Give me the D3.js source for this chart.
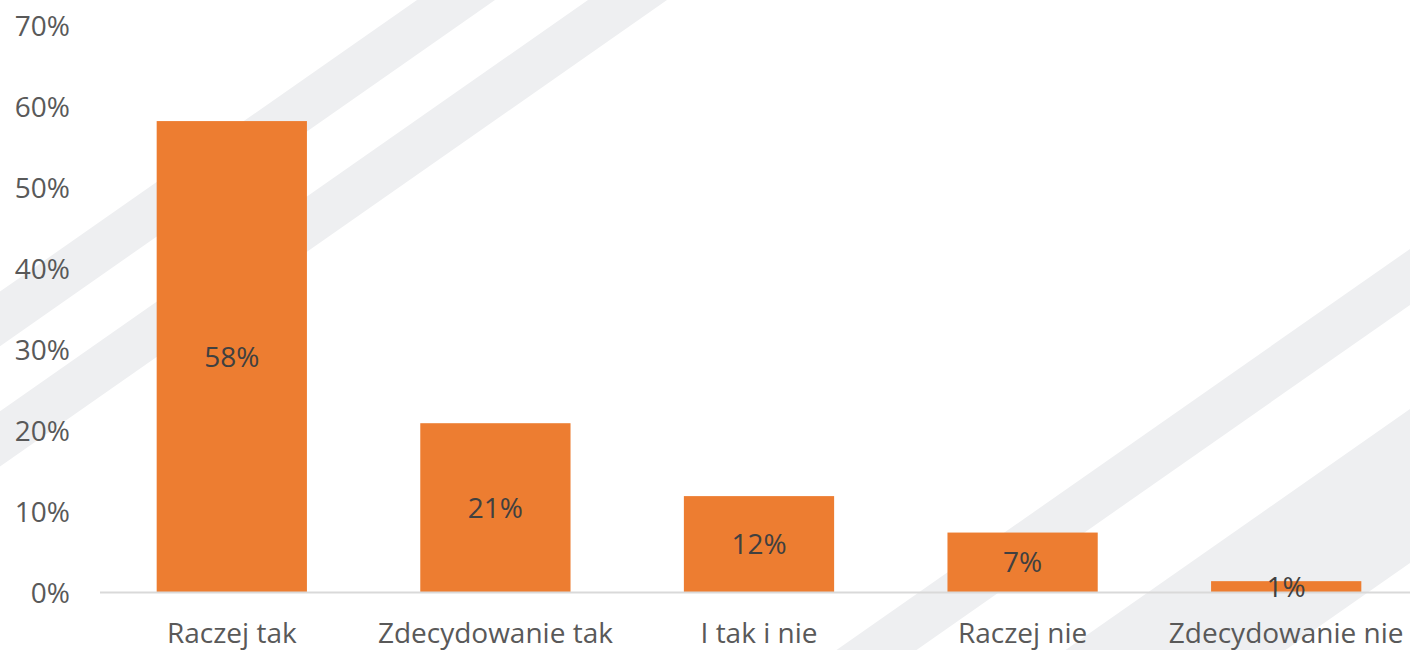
<!DOCTYPE html>
<html lang="pl">
<head>
    <meta charset="UTF-8">
    <title>Wykres odpowiedzi</title>
    <script src="https://d3js.org/d3.v7.min.js"></script>
    <style>
        html, body { margin: 0; padding: 0; background: #fff; }
        svg { display: block; font-family: "Open Sans", "Noto Sans", sans-serif; }
        .stripe { fill: #eeeff1; }
        .tick-label { fill: #595959; font-size: 28px; }
        .cat-label { fill: #595959; font-size: 28px; }
        .value-label { fill: #404040; font-size: 28px; }
        .baseline { stroke: #d9d9d9; stroke-width: 2px; }
        .bar { fill: #ed7d31; }
    </style>
</head>
<body>
    <svg width="1410" height="650"></svg>
    <script>
        // data
        const categories = ["Raczej tak", "Zdecydowanie tak", "I tak i nie", "Raczej nie", "Zdecydowanie nie"];
        const values = [0.582, 0.209, 0.119, 0.074, 0.014];
        const yTicks = [0, 0.1, 0.2, 0.3, 0.4, 0.5, 0.6, 0.7];

        const width = 1410, height = 650;
        const svg = d3.select("svg");

        // background decoration: diagonal stripes (x where upper/lower edge meets y=0)
        const slope = 1.43;
        const stripes = [[417, 495], [588, 667], [1766, 1846], [1995, 2215]];
        svg.append("g").selectAll("polygon")
            .data(stripes)
            .enter().append("polygon")
            .attr("class", "stripe")
            .attr("points", d => [
                [d[0], 0], [d[1], 0],
                [d[1] - slope * height, height], [d[0] - slope * height, height]
            ].map(p => p.join(",")).join(" "));

        const x = d3.scaleBand()
            .domain(categories)
            .range([100, 1418])
            .paddingInner(0.43)
            .paddingOuter(0.215);

        const y = d3.scaleLinear()
            .domain([0, 0.7])
            .range([592.5, 25.5]);

        const fmt = d3.format(".0%");

        // y axis labels (no axis line, no gridlines)
        const yAxis = d3.axisLeft(y).tickValues(yTicks).tickFormat(fmt).tickSize(0).tickPadding(0);
        const gy = svg.append("g").attr("transform", "translate(70,0)").call(yAxis);
        gy.select(".domain").remove();
        gy.attr("font-family", null).attr("font-size", null);
        gy.selectAll("text")
            .attr("class", "tick-label")
            .attr("dy", "0.35em");

        // bars
        svg.append("g").selectAll("rect")
            .data(values)
            .enter().append("rect")
            .attr("class", "bar")
            .attr("x", (d, i) => x(categories[i]))
            .attr("width", x.bandwidth())
            .attr("y", d => y(d))
            .attr("height", d => y(0) - y(d));

        // baseline
        svg.append("line")
            .attr("class", "baseline")
            .attr("x1", 100).attr("x2", width)
            .attr("y1", y(0)).attr("y2", y(0));

        // value labels centred in bars
        svg.append("g").selectAll("text")
            .data(values)
            .enter().append("text")
            .attr("class", "value-label")
            .attr("text-anchor", "middle")
            .attr("x", (d, i) => x(categories[i]) + x.bandwidth() / 2)
            .attr("y", d => (y(d) + y(0)) / 2)
            .attr("dy", "0.35em")
            .text(d => fmt(d));

        // category labels
        const xAxis = d3.axisBottom(x).tickSize(0).tickPadding(0);
        const gx = svg.append("g").attr("transform", "translate(0,633)").call(xAxis);
        gx.select(".domain").remove();
        gx.attr("font-family", null).attr("font-size", null);
        gx.selectAll("text")
            .attr("class", "cat-label")
            .attr("dy", "0.35em");
    </script>
</body>
</html>
